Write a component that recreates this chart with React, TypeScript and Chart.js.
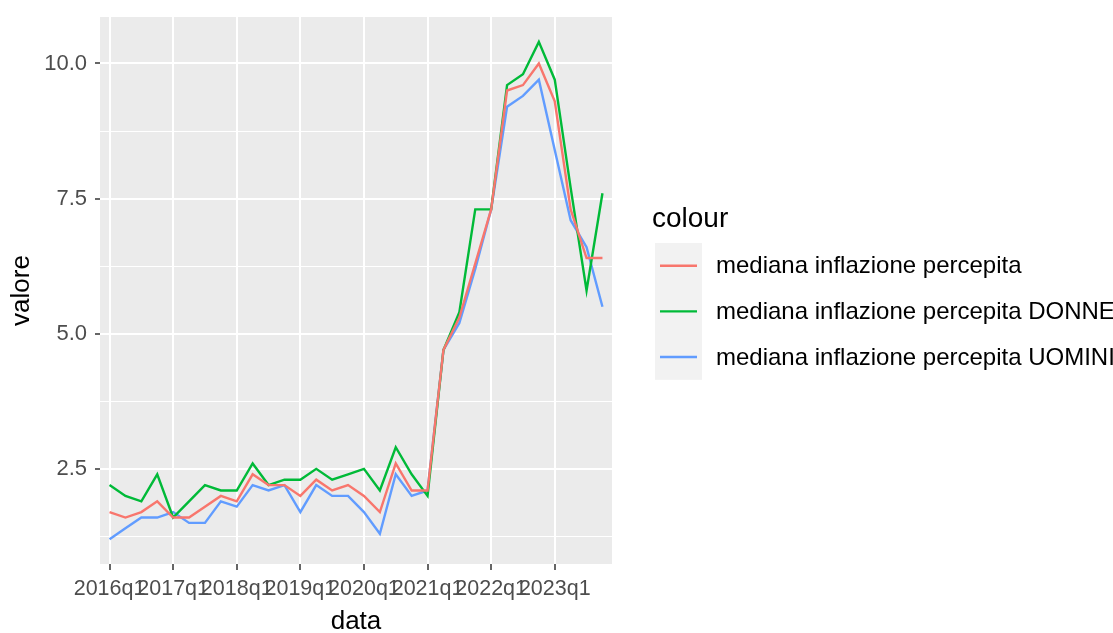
import React, { useEffect, useRef } from "react";
import { Chart, registerables } from "chart.js";

Chart.register(...registerables);

const quarters = [
  "2016q1", "2016q2", "2016q3", "2016q4",
  "2017q1", "2017q2", "2017q3", "2017q4",
  "2018q1", "2018q2", "2018q3", "2018q4",
  "2019q1", "2019q2", "2019q3", "2019q4",
  "2020q1", "2020q2", "2020q3", "2020q4",
  "2021q1", "2021q2", "2021q3", "2021q4",
  "2022q1", "2022q2", "2022q3", "2022q4",
  "2023q1", "2023q2", "2023q3", "2023q4",
];

const tickQuarters = ["2016q1", "2017q1", "2018q1", "2019q1", "2020q1", "2021q1", "2022q1", "2023q1"];

const medianaTotale = [
  1.7, 1.6, 1.7, 1.9, 1.6, 1.6, 1.8, 2.0,
  1.9, 2.4, 2.2, 2.2, 2.0, 2.3, 2.1, 2.2,
  2.0, 1.7, 2.6, 2.1, 2.1, 4.7, 5.3, 6.3,
  7.3, 9.5, 9.6, 10.0, 9.3, 7.3, 6.4, 6.4,
];

const medianaDonne = [
  2.2, 2.0, 1.9, 2.4, 1.6, 1.9, 2.2, 2.1,
  2.1, 2.6, 2.2, 2.3, 2.3, 2.5, 2.3, 2.4,
  2.5, 2.1, 2.9, 2.4, 2.0, 4.7, 5.4, 7.3,
  7.3, 9.6, 9.8, 10.4, 9.7, 7.7, 5.8, 7.6,
];

const medianaUomini = [
  1.2, 1.4, 1.6, 1.6, 1.7, 1.5, 1.5, 1.9,
  1.8, 2.2, 2.1, 2.2, 1.7, 2.2, 2.0, 2.0,
  1.7, 1.3, 2.4, 2.0, 2.1, 4.7, 5.2, 6.2,
  7.3, 9.2, 9.4, 9.7, 8.4, 7.1, 6.6, 5.5,
];

const seriesNames = [
  "mediana inflazione percepita",
  "mediana inflazione percepita DONNE",
  "mediana inflazione percepita UOMINI",
];
const seriesColors = ["#F8766D", "#00BA38", "#619CFF"];

const yMajorTicks = [2.5, 5.0, 7.5, 10.0];
const yMinorTicks = [1.25, 3.75, 6.25, 8.75];

const legendTitle = "colour";
const xTitle = "data";
const yTitle = "valore";

const FONT = "'Liberation Sans', Arial, sans-serif";

const panelBackground = {
  id: "panelBackground",
  beforeDraw(chart: any) {
    const { ctx, chartArea } = chart;
    ctx.save();
    ctx.fillStyle = "#EBEBEB";
    ctx.fillRect(chartArea.left, chartArea.top, chartArea.right - chartArea.left, chartArea.bottom - chartArea.top);
    ctx.restore();
  },
};

const ggLegend = {
  id: "ggLegend",
  afterDraw(chart: any) {
    const { ctx, chartArea } = chart;
    const x0 = chartArea.right + 43;
    const keyTop = 243;
    const keyH = 45.6;
    const keyW = 47;
    const n = chart.data.datasets.length;
    ctx.save();
    ctx.fillStyle = "#000000";
    ctx.font = `28px ${FONT}`;
    ctx.textBaseline = "alphabetic";
    ctx.textAlign = "left";
    ctx.fillText(legendTitle, x0 - 3, 227);
    ctx.fillStyle = "#F2F2F2";
    ctx.fillRect(x0, keyTop, keyW, keyH * n);
    chart.data.datasets.forEach((ds: any, i: number) => {
      const cy = keyTop + keyH * (i + 0.5);
      ctx.strokeStyle = ds.borderColor;
      ctx.lineWidth = 2.4;
      ctx.beginPath();
      ctx.moveTo(x0 + 5, cy);
      ctx.lineTo(x0 + keyW - 5, cy);
      ctx.stroke();
      ctx.fillStyle = "#000000";
      ctx.font = `24px ${FONT}`;
      ctx.textBaseline = "middle";
      ctx.fillText(ds.label, x0 + 61, cy + 1);
    });
    ctx.restore();
  },
};

export default function App() {
  const canvasRef = useRef<HTMLCanvasElement | null>(null);

  useEffect(() => {
    const canvas = canvasRef.current;
    if (!canvas) return;
    const seriesValues = [medianaTotale, medianaDonne, medianaUomini];
    const isMajor = (v: number) => yMajorTicks.some((m) => Math.abs(m - v) < 1e-6);
    const chart = new Chart(canvas, {
      type: "line",
      data: {
        datasets: seriesValues.map((vals, s) => ({
          label: seriesNames[s],
          data: quarters.map((q, i) => ({ x: quarters.indexOf(q), y: vals[i] })),
          borderColor: seriesColors[s],
          backgroundColor: seriesColors[s],
          borderWidth: 2.4,
          pointRadius: 0,
          tension: 0,
          fill: false,
        })),
      },
      options: {
        responsive: false,
        animation: false,
        layout: { padding: { top: 17, right: 501, left: 0, bottom: 0 } },
        plugins: {
          legend: { display: false },
          tooltip: { enabled: false },
        },
        scales: {
          x: {
            type: "linear",
            min: -0.6,
            max: quarters.length - 1 + 0.6,
            afterBuildTicks: (scale: any) => {
              scale.ticks = tickQuarters.map((q) => ({ value: quarters.indexOf(q) }));
            },
            afterFit: (scale: any) => {
              scale.height = 69;
              scale.paddingLeft = 0;
              scale.paddingRight = 0;
            },
            ticks: {
              autoSkip: false,
              maxRotation: 0,
              minRotation: 0,
              includeBounds: false,
              padding: 6,
              color: "#4D4D4D",
              font: { family: FONT, size: 21.5 },
              callback: (v: any) => quarters[Math.round(Number(v))] ?? "",
            },
            grid: {
              color: "#FFFFFF",
              lineWidth: 2,
              tickColor: "#333333",
              tickLength: 6,
              tickWidth: 1.5,
            },
            border: { display: false },
            title: {
              display: true,
              text: xTitle,
              color: "#000000",
              font: { family: FONT, size: 26 },
              padding: { top: 0, bottom: -4 },
            },
          },
          y: {
            type: "linear",
            min: 0.74,
            max: 10.86,
            afterBuildTicks: (scale: any) => {
              scale.ticks = [...yMinorTicks, ...yMajorTicks]
                .sort((a, b) => a - b)
                .map((v) => ({ value: v }));
            },
            afterFit: (scale: any) => {
              scale.width = 100;
              scale.paddingTop = 0;
              scale.paddingBottom = 0;
            },
            ticks: {
              padding: 8,
              color: "#4D4D4D",
              font: { family: FONT, size: 22 },
              callback: (v: any) => (isMajor(Number(v)) ? Number(v).toFixed(1) : ""),
            },
            grid: {
              color: "#FFFFFF",
              lineWidth: (ctx: any) => (isMajor(ctx.tick?.value) ? 2 : 1),
              tickColor: (ctx: any) => (isMajor(ctx.tick?.value) ? "#333333" : "rgba(0,0,0,0)"),
              tickLength: 5,
              tickWidth: 1.5,
            },
            border: { display: false },
            title: {
              display: true,
              text: yTitle,
              color: "#000000",
              font: { family: FONT, size: 26 },
              padding: { top: 6, bottom: 0 },
            },
          },
        },
      },
      plugins: [panelBackground, ggLegend],
    });
    return () => chart.destroy();
  }, []);

  return (
    <div style={{ position: "fixed", left: 0, top: 0, width: 1113, height: 633, background: "#FFFFFF" }}>
      <canvas ref={canvasRef} width={1113} height={633} style={{ display: "block", width: 1113, height: 633 }} />
    </div>
  );
}
